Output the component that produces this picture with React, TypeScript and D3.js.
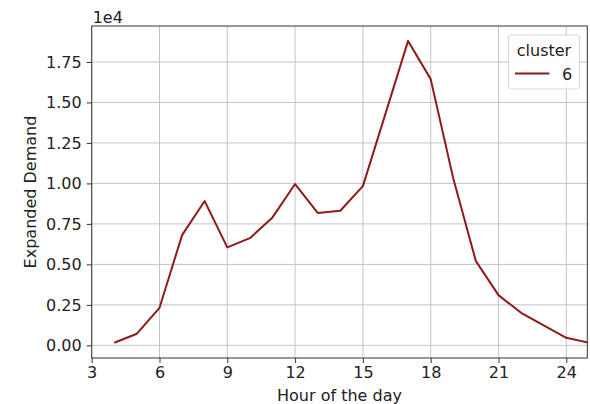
import React, { useEffect, useRef } from 'react'
import * as d3 from 'd3'

// hour of day vs expanded demand, cluster 6
const hours = [4, 5, 6, 7, 8, 9, 10, 11, 12, 13, 14, 15, 16, 17, 18, 19, 20, 21, 22, 23, 24, 25]
const demand = [160, 720, 2320, 6810, 8910, 6050, 6620, 7900, 9960, 8180, 8310, 9830, 14310, 18800, 16440, 10300, 5200, 3100, 2010, 1230, 470, 170]
const xTicks = [3, 6, 9, 12, 15, 18, 21, 24]
const yTicks = [0, 0.25, 0.5, 0.75, 1.0, 1.25, 1.5, 1.75]

const W = 590
const H = 404
const FONT = 'DejaVu Sans, sans-serif'

const App: React.FC = () => {
  const ref = useRef<SVGSVGElement | null>(null)

  useEffect(() => {
    if (!ref.current) return
    const svg = d3.select(ref.current)
    svg.selectAll('*').remove()

    const left = 91.7, right = 587.3, top = 26, bottom = 358

    const x = d3.scaleLinear().domain([3, 24.93]).range([left, right])
    const y = d3.scaleLinear().domain([-0.078, 1.972]).range([bottom, top])

    svg.append('rect').attr('width', W).attr('height', H).attr('fill', '#fff')

    // grid
    const grid = svg.append('g').attr('stroke', '#c4c4c4').attr('stroke-width', 1)
    xTicks.forEach(t => {
      grid.append('line').attr('x1', x(t)).attr('x2', x(t)).attr('y1', top).attr('y2', bottom)
    })
    yTicks.forEach(t => {
      grid.append('line').attr('x1', left).attr('x2', right).attr('y1', y(t)).attr('y2', y(t))
    })

    svg.append('clipPath').attr('id', 'plotclip')
      .append('rect').attr('x', left).attr('y', top).attr('width', right - left).attr('height', bottom - top)

    const line = d3.line<number>()
      .x((_, i) => x(hours[i]))
      .y(d => y(d / 1e4))

    svg.append('path')
      .datum(demand)
      .attr('clip-path', 'url(#plotclip)')
      .attr('d', line)
      .attr('fill', 'none')
      .attr('stroke', '#8e1b1b')
      .attr('stroke-width', 2)
      .attr('stroke-linejoin', 'round')

    // spines
    svg.append('rect')
      .attr('x', left).attr('y', top)
      .attr('width', right - left).attr('height', bottom - top)
      .attr('fill', 'none').attr('stroke', '#333').attr('stroke-width', 1)

    // x axis
    const xa = svg.append('g')
      .attr('transform', `translate(0,${bottom})`)
      .call(d3.axisBottom(x).tickValues(xTicks).tickSize(5).tickPadding(4).tickFormat(d => String(d)))
    xa.select('.domain').remove()
    xa.selectAll('line').attr('stroke', '#333')
    xa.selectAll('text').attr('fill', '#222').style('font-size', '16px').style('font-family', FONT)

    // y axis
    const ya = svg.append('g')
      .attr('transform', `translate(${left},0)`)
      .call(d3.axisLeft(y).tickValues(yTicks).tickSize(5).tickPadding(5).tickFormat(d => (d as number).toFixed(2)))
    ya.select('.domain').remove()
    ya.selectAll('line').attr('stroke', '#333')
    ya.selectAll('text').attr('fill', '#222').style('font-size', '16px').style('font-family', FONT)

    // offset text
    svg.append('text')
      .attr('x', left + 1).attr('y', 22.5)
      .style('font-size', '16px').style('font-family', FONT).attr('fill', '#222')
      .text('1e4')

    // axis labels
    svg.append('text')
      .attr('x', (left + right) / 2).attr('y', 401)
      .attr('text-anchor', 'middle')
      .style('font-size', '16px').style('font-family', FONT).attr('fill', '#222')
      .text('Hour of the day')

    svg.append('text')
      .attr('transform', `translate(35.5,${(top + bottom) / 2}) rotate(-90)`)
      .attr('text-anchor', 'middle')
      .style('font-size', '16px').style('font-family', FONT).attr('fill', '#222')
      .text('Expanded Demand')

    // legend
    const lg = svg.append('g')
    lg.append('rect')
      .attr('x', 508.5).attr('y', 35).attr('width', 71).attr('height', 54).attr('rx', 3)
      .attr('fill', '#fff').attr('fill-opacity', 0.85)
      .attr('stroke', '#d8d8d8').attr('stroke-width', 1)
    lg.append('text')
      .attr('x', 544).attr('y', 55.5).attr('text-anchor', 'middle')
      .style('font-size', '16px').style('font-family', FONT).attr('fill', '#222')
      .text('cluster')
    lg.append('line')
      .attr('x1', 515).attr('x2', 549.5).attr('y1', 73.5).attr('y2', 73.5)
      .attr('stroke', '#8e1b1b').attr('stroke-width', 2)
    lg.append('text')
      .attr('x', 562).attr('y', 79.5)
      .style('font-size', '16px').style('font-family', FONT).attr('fill', '#222')
      .text('6')
  }, [])

  return (
    <svg ref={ref} width={W} height={H} style={{ position: 'absolute', left: 0, top: 0 }} />
  )
}

export default App
